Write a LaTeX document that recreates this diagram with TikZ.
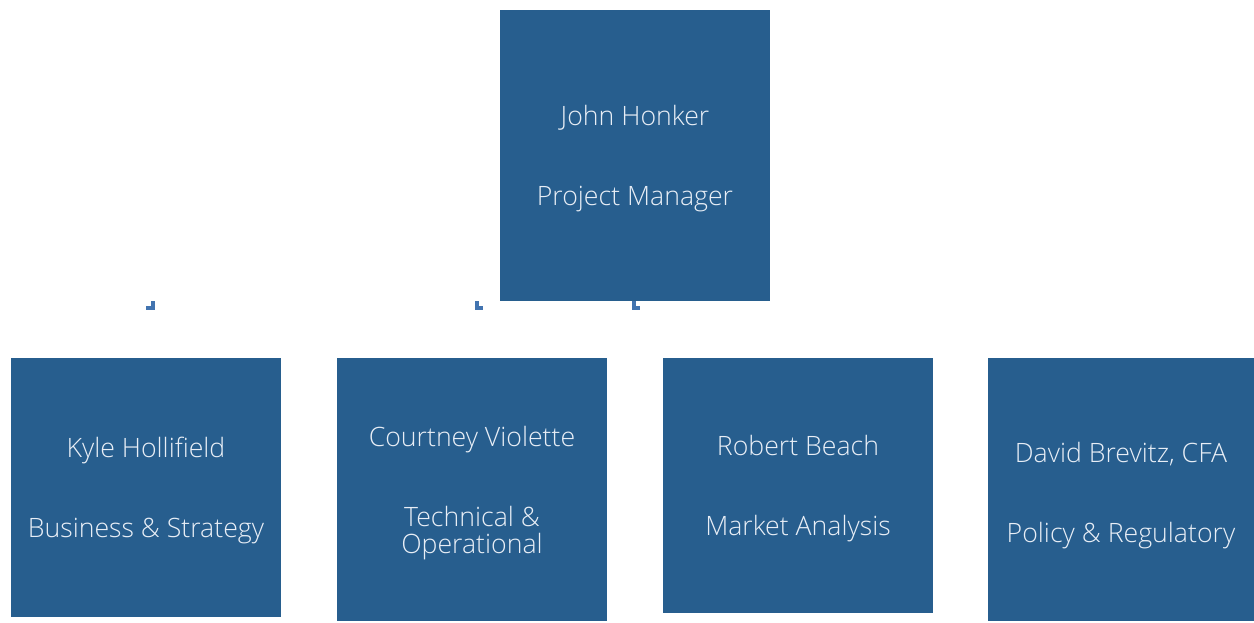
\documentclass[tikz,border=0pt]{standalone}
\usepackage{fontspec}
\setmainfont{Open Sans Light}
\usetikzlibrary{positioning}
\definecolor{boxblue}{RGB}{39,94,142}
\definecolor{stubblue}{RGB}{66,116,176}
\definecolor{paletext}{RGB}{232,238,246}
\newcommand{\toplift}[1]{\rule{0pt}{#1}}

\begin{document}
\begin{tikzpicture}[x=0.75pt,y=-0.75pt,
	Person/.style={rectangle, fill=boxblue, text=paletext, align=center, minimum width=202.5pt, inner sep=0pt, font=\fontsize{20}{20.25}\selectfont},
	Stub/.style={draw=stubblue, line width=3pt},
	]
	\useasboundingbox (0,0) rectangle (1254,622);
	
	
	\node[Person, minimum height=218.25pt] (Manager) at (635,155.5) {\toplift{20pt}John Honker\\[39.75pt]Project Manager};
	
	\node[Person, minimum height=194.25pt, anchor=north] (Kyle) at (146,358) {\toplift{20pt}Kyle Hollifield\\[39.75pt]Business \& Strategy};
	\node[Person, minimum height=197.25pt, anchor=north] (Courtney) at (472,358) {\toplift{20pt}Courtney Violette\\[39.75pt]Technical \&\\Operational};
	\node[Person, minimum height=191.25pt, anchor=north] (Robert) at (798,358) {\toplift{20pt}Robert Beach\\[39.75pt]Market Analysis};
	\node[Person, minimum height=197.25pt, minimum width=199.5pt, anchor=north] (David) at (1121,358) {\toplift{24.5pt}David Brevitz, CFA\\[39.75pt]Policy \& Regulatory};
	
	
	
	
	\coordinate (KyleStub)     at (153,301);
	\coordinate (CourtneyStub) at (477,301);
	\coordinate (RobertStub)   at (634,301);
	
	\draw[Stub] (KyleStub) -- ++(0,7) -- ++(-7,0);
	\draw[Stub] (CourtneyStub) -- ++(0,7) -- ++(6,0);
	\draw[Stub] (RobertStub) -- ++(0,7) -- ++(6,0);
	
	
	
\end{tikzpicture}
\end{document}
